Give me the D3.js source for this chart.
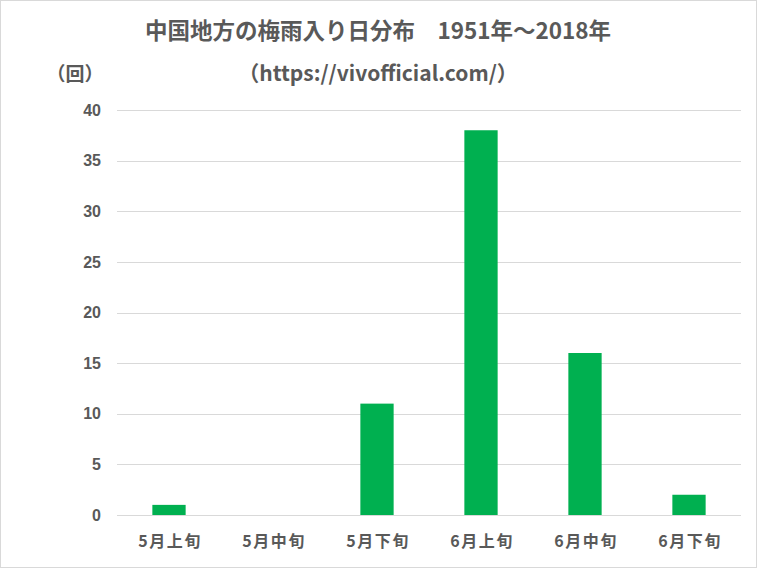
<!DOCTYPE html>
<html>
<head>
<meta charset="utf-8">
<script src="https://cdn.jsdelivr.net/npm/d3@7"></script>
<style>
  html, body { margin: 0; padding: 0; background: #fff; }
  svg { display: block; }
  text { font-family: "Noto Sans CJK JP", "Noto Sans", sans-serif; fill: #595959; font-weight: bold; }
</style>
</head>
<body>
<div id="chart"></div>
<script>
// 中国地方の梅雨入り日分布 (1951-2018)
var categories = ["5月上旬", "5月中旬", "5月下旬", "6月上旬", "6月中旬", "6月下旬"];
var counts = [1, 0, 11, 38, 16, 2];
var yTicks = [0, 5, 10, 15, 20, 25, 30, 35, 40];

(function () {
  var W = 757, H = 568;
  var plot = { left: 117, right: 741, top: 110, bottom: 515 };

  var svg = d3.select("#chart").append("svg").attr("width", W).attr("height", H);

  svg.append("rect").attr("x", 0.5).attr("y", 0.5).attr("width", W - 1).attr("height", H - 1)
    .attr("fill", "#fff").attr("stroke", "#d9d9d9");

  var x = d3.scaleBand().domain(categories).range([plot.left, plot.right]).paddingInner(0.68).paddingOuter(0.34);
  var y = d3.scaleLinear().domain([0, 40]).range([plot.bottom, plot.top]);

  // grid
  svg.append("g").selectAll("line").data(yTicks).join("line")
    .attr("x1", plot.left).attr("x2", plot.right)
    .attr("y1", function (d) { return Math.round(y(d)) + 0.5; })
    .attr("y2", function (d) { return Math.round(y(d)) + 0.5; })
    .attr("stroke", "#d9d9d9").attr("stroke-width", 1);

  // y axis labels
  var yAxis = d3.axisLeft(y).tickValues(yTicks).tickSize(0).tickPadding(0);
  var ga = svg.append("g").attr("transform", "translate(101,0)").call(yAxis);
  ga.select(".domain").remove();
  ga.selectAll("text").style("font-size", "16px").attr("fill", "#595959")
    .style("font-family", "'Liberation Sans', sans-serif").style("font-weight", "bold");

  // bars
  svg.append("g").selectAll("rect").data(counts).join("rect")
    .attr("x", function (d, i) { return x(categories[i]); })
    .attr("width", x.bandwidth())
    .attr("y", function (d) { return y(d); })
    .attr("height", function (d) { return y(0) - y(d); })
    .attr("fill", "#00b050");

  // x axis labels
  var xAxis = d3.axisBottom(x).tickSize(0).tickPadding(0);
  var gx = svg.append("g").attr("transform", "translate(1,536)").call(xAxis);
  gx.select(".domain").remove();
  gx.selectAll("text").style("font-size", "16px").attr("fill", "#595959")
    .style("letter-spacing", "1.5px")
    .style("font-family", "'Noto Sans CJK JP', sans-serif").style("font-weight", "bold");

  // titles
  svg.append("text").attr("x", 378).attr("y", 39).attr("text-anchor", "middle")
    .style("font-size", "22.5px").text("中国地方の梅雨入り日分布　1951年～2018年");
  svg.append("text").attr("x", 378).attr("y", 81).attr("text-anchor", "middle")
    .style("font-size", "21px").text("（https://vivofficial.com/）");
  svg.append("text").attr("x", 75).attr("y", 81).attr("text-anchor", "middle")
    .style("font-size", "19px").text("（回）");
})();
</script>
</body>
</html>
